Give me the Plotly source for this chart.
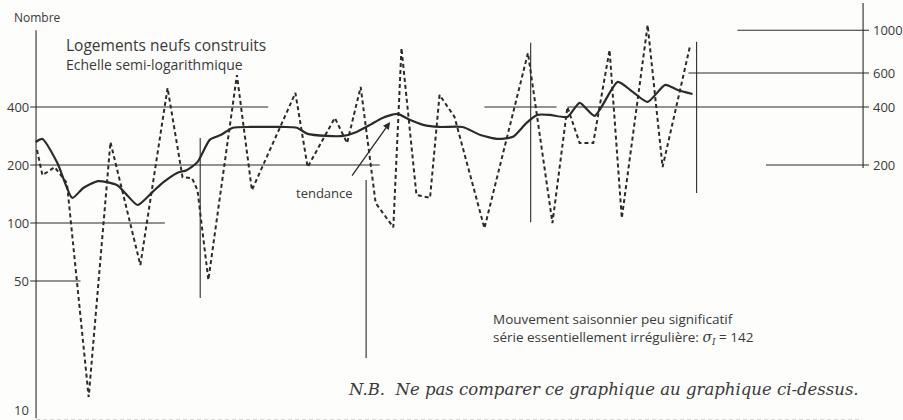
import plotly.graph_objects as go
import math

# ---------------- DATA ----------------
# monthly series (dashed), vertex positions in months from start
serie_mois = [0.0, 0.4, 1.3, 2.2, 3.8, 5.4, 7.6, 9.6, 10.7, 11.4, 11.8, 12.6, 14.7, 15.8,
              19.0, 19.9, 21.9, 22.8, 23.8, 24.9, 26.2, 26.8, 27.9, 28.9, 29.6, 30.7,
              32.9, 36.1, 37.9, 39.0, 39.9, 40.9, 42.1, 43.0, 44.9, 46.0, 48.0]
serie_valeurs = [239, 177, 195, 161, 12.5, 263, 60.5, 502, 173, 171, 148, 50.6, 586, 148,
                 473, 195, 351, 260, 508, 127, 95, 809, 140, 135, 462, 355,
                 94, 763, 100, 400, 260, 260, 790, 106, 1065, 195, 819]

# trend ("tendance", solid)
tendance_mois = [-0.1, 0.4, 1.5, 2.6, 3.4, 4.5, 5.9, 6.6, 7.4, 8.5, 9.3, 10.3, 11.0, 11.8,
                 12.7, 13.5, 14.4, 15.7, 16.9, 18.1, 19.1, 19.9, 21.3, 22.5, 23.5, 24.5,
                 25.4, 26.5, 27.4, 28.4, 29.6, 31.3, 32.6, 33.9, 35.0, 36.0, 36.8, 37.7,
                 39.0, 39.9, 41.0, 42.7, 43.8, 44.9, 46.2, 47.1, 48.2]
tendance_valeurs = [263, 273, 205, 135, 152, 165, 157, 140, 124, 145, 163, 182, 188, 207,
                    270, 286, 312, 315, 315, 315, 312, 290, 283, 283, 297, 323,
                    351, 368, 343, 323, 315, 315, 286, 273, 280, 331, 364, 364,
                    355, 420, 360, 540, 479, 425, 521, 490, 467]

ticks_gauche = [10, 50, 100, 200, 400]
ticks_droite = [200, 400, 600, 1000]

# ---------------- LAYOUT / STYLE ----------------
W, H = 903, 420
ML, MR = 30, 34
X0 = -0.5147
X1 = 61.176
Y_LOG = [0.9777, 3.1572]
INK = "#2b2b2b"
TXT = "#3a3a3a"
SANS = "'Open Sans', 'Noto Sans', sans-serif"
SERIF = "'DejaVu Serif', 'Liberation Serif', serif"

def px(xpix):
    return (xpix - ML) / (W - ML - MR)

def py(ypix):
    return 1 - ypix / H

def ypix_of(v):
    return H * (Y_LOG[1] - math.log10(v)) / (Y_LOG[1] - Y_LOG[0])

# horizontal guides (month range, value)
h_segments = [
    (-0.5, 17.0, 400), (32.9, 38.2, 400), (39.0, 61.2, 400),
    (-0.5, 25.2, 200), (53.6, 61.2, 200),
    (-0.5, 9.4, 100), (-0.5, 3.2, 50),
    (47.9, 61.2, 600), (51.5, 61.2, 1000),
]
# vertical guides (month, value range)
v_segments = [
    (12.0, 40.8, 276), (24.2, 19.9, 167), (36.3, 101, 861), (48.5, 143, 871),
]
axe_gauche = (-0.07, 9.7, 1000)
axe_droit = (60.74, 193, 1387)

gx, gy = [], []
for a, b, v in h_segments:
    gx += [a, b, None]
    gy += [v, v, None]
for m, lo, hi in v_segments + [axe_gauche, axe_droit]:
    gx += [m, m, None]
    gy += [lo, hi, None]

fig = go.Figure()

# faint bottom line
fig.add_trace(go.Scatter(x=[-0.07, 60.5], y=[9.55, 9.55], mode="lines",
                         line=dict(color="#d2d2d2", width=1, dash="4px,3px"),
                         hoverinfo="skip", showlegend=False))

fig.add_trace(go.Scatter(x=gx, y=gy, mode="lines",
                         line=dict(color=INK, width=1.1),
                         hoverinfo="skip", showlegend=False))

fig.add_trace(go.Scatter(x=serie_mois, y=serie_valeurs, mode="lines",
                         line=dict(color=INK, width=2.0, dash="4px,3px"),
                         showlegend=False, name="Logements neufs construits"))

fig.add_trace(go.Scatter(x=tendance_mois, y=tendance_valeurs, mode="lines",
                         line=dict(color=INK, width=2.2, shape="spline", smoothing=0.6),
                         showlegend=False, name="tendance"))

# right axis carrier
fig.add_trace(go.Scatter(x=[None], y=[None], yaxis="y2", showlegend=False))

ann = []
def text(s, xpix, ypix, size, family=SANS, color=TXT, italic=False):
    ann.append(dict(text=s, x=px(xpix), y=py(ypix), xref="paper", yref="paper",
                    xanchor="left", yanchor="middle", showarrow=False,
                    font=dict(size=size, family=family, color=color,
                              style="italic" if italic else "normal")))

# left tick labels (kept inside the page at the bottom)
for v in ticks_gauche:
    yp = ypix_of(v)
    ann.append(dict(text=str(v), x=px(31), y=math.log10(v), xref="paper", yref="y",
                    xanchor="right", yanchor="middle", showarrow=False,
                    yshift=max(0, yp - 410),
                    font=dict(size=13, family=SANS, color=TXT)))

text("Nombre", 12, 18, 12)
text("Logements neufs construits", 64, 45, 15.5)
text("Echelle semi-logarithmique", 64, 64, 14)
text("tendance", 294, 193, 13)
text("Mouvement saisonnier peu significatif", 491, 319, 13.5)
text("série essentiellement irrégulière: "
     "<span style='font-family:DejaVu Serif;font-style:italic;font-size:14px'>σ</span>"
     "<sub><span style='font-family:DejaVu Serif;font-style:italic;font-size:9px'>I</span></sub> = 142",
     491, 337, 13.5)
text("N.B.\u00a0\u00a0Ne pas comparer ce graphique au graphique ci-dessus.", 346, 389, 16.5,
     family=SERIF, italic=True)

# arrow to the trend
ann.append(dict(x=25.96, y=math.log10(334), xref="x", yref="y",
                ax=23.09, ay=math.log10(173), axref="x", ayref="y",
                showarrow=True, arrowhead=2, arrowsize=1.1, arrowwidth=1.3,
                arrowcolor=INK, text=""))

fig.update_layout(
    width=W, height=H,
    margin=dict(l=ML, r=MR, t=0, b=0, pad=0),
    paper_bgcolor="#fdfdfb", plot_bgcolor="#fdfdfb",
    xaxis=dict(range=[X0, X1], visible=False, fixedrange=True),
    yaxis=dict(type="log", range=Y_LOG, showticklabels=False,
               showgrid=False, zeroline=False, showline=False, ticks=""),
    yaxis2=dict(type="log", range=Y_LOG, overlaying="y", side="right",
                tickvals=ticks_droite, ticktext=[str(t) for t in ticks_droite],
                showgrid=False, zeroline=False, showline=False, ticks="",
                ticklabelstandoff=3, automargin=False, ticklabeloverflow="allow",
                tickfont=dict(family=SANS, size=13, color=TXT)),
    annotations=ann,
    showlegend=False,
)

fig.write_html("out.html", config={"displayModeBar": False},
               post_script="document.body.style.margin='0';document.body.style.overflow='hidden';")
